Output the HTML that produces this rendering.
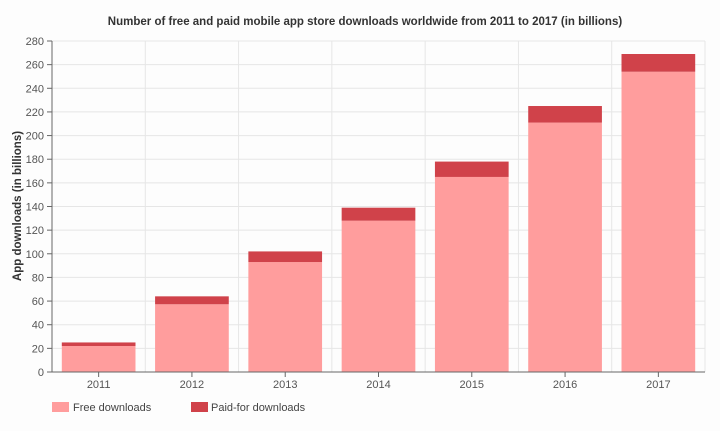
<!DOCTYPE html>
<html><head><meta charset="utf-8"><style>
body{margin:0;background:#fff;width:720px;height:431px;overflow:hidden;font-family:"Liberation Sans",sans-serif}
</style></head><body>
<svg width="720" height="431" xmlns="http://www.w3.org/2000/svg">
<rect x="0" y="0" width="720" height="431" fill="#fdfdfd"/>
<text x="365" y="25" text-anchor="middle" font-size="11.5" font-weight="bold" fill="#333">Number of free and paid mobile app store downloads worldwide from 2011 to 2017 (in billions)</text>
<text transform="translate(21,206) rotate(-90)" text-anchor="middle" font-size="11.5" font-weight="bold" fill="#333">App downloads (in billions)</text>
<g id="grid"></g><g id="bars"></g><g id="axes"></g>
<rect x="52" y="402" width="17" height="10" fill="#ff9d9d"/>
<text x="73" y="411" font-size="11" fill="#444">Free downloads</text>
<rect x="191" y="402" width="17" height="10" fill="#d0424a"/>
<text x="211" y="411" font-size="11" fill="#444">Paid-for downloads</text>
</svg>
<script>
const years=["2011","2012","2013","2014","2015","2016","2017"];
const freeVals=[22,57.3,93,128,165,211,254];
const paidVals=[3,6.7,9,11,13,14,15];
const yTicks=[0,20,40,60,80,100,120,140,160,180,200,220,240,260,280];
const NS="http://www.w3.org/2000/svg";
const L=52,R=705,T=41,B=372,YMAX=280;
const y=v=>B-(v/YMAX)*(B-T);
const cw=(R-L)/years.length;
const x=i=>L+i*cw;
function mk(t,a,p){const e=document.createElementNS(NS,t);for(const k in a)e.setAttribute(k,a[k]);p.appendChild(e);return e;}
const g=document.getElementById('grid'),b=document.getElementById('bars'),ax=document.getElementById('axes');
yTicks.forEach(v=>{
 const l=mk('line',{x1:L,x2:R,y1:y(v),y2:y(v),stroke:'#e6e6e6'},g);
 
 
 const tk=mk('line',{x1:L-5,x2:L,y1:y(v),y2:y(v),stroke:'#666'},ax);
 
 
 const t=mk('text',{x:L-8,y:y(v)+4,'text-anchor':'end','font-size':'11',fill:'#555'},ax);
 t.textContent=v;
 
 
});
for(let i=0;i<=years.length;i++){
 const l=mk('line',{x1:x(i),x2:x(i),y1:T,y2:B,stroke:'#e6e6e6'},g);
 
 
}
years.forEach((yr,i)=>{
 const bw=cw*0.79,bx=x(i)+(cw-bw)/2;
 const f=mk('rect',{x:bx,y:y(freeVals[i]),width:bw,height:B-y(freeVals[i]),fill:'#ff9d9d'},b);
 
 
 const tot=freeVals[i]+paidVals[i];
 const p=mk('rect',{x:bx,y:y(tot),width:bw,height:y(freeVals[i])-y(tot),fill:'#d0424a'},b);
 
 
 const tk=mk('line',{x1:x(i)+cw/2,x2:x(i)+cw/2,y1:B,y2:B+5,stroke:'#666'},ax);
 
 
 const t=mk('text',{x:x(i)+cw/2,y:B+16,'text-anchor':'middle','font-size':'11',fill:'#555'},ax);
 t.textContent=yr;
 
 
});
const ya=mk('line',{x1:L,x2:L,y1:T,y2:B,stroke:'#666'},ax);


const xa=mk('line',{x1:L,x2:R,y1:B,y2:B,stroke:'#666'},ax);


</script>
</body></html>
